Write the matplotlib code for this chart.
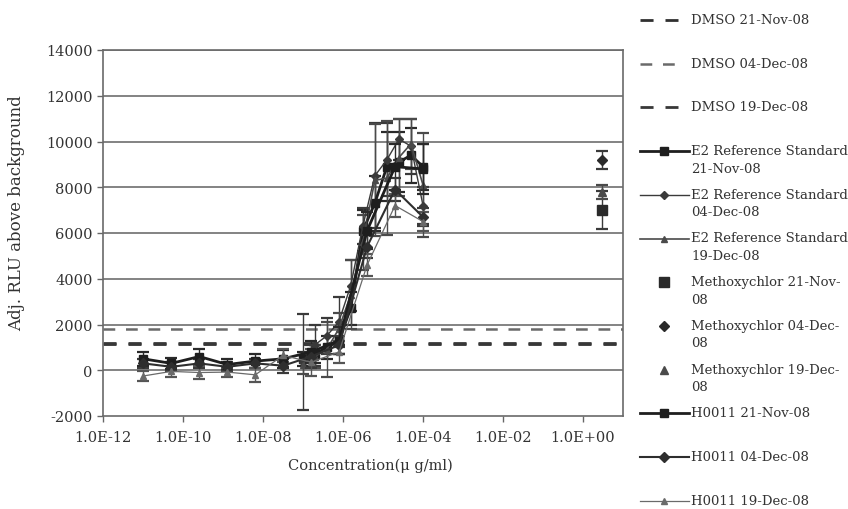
import numpy as np
import matplotlib
matplotlib.use("Agg")
import matplotlib.pyplot as plt
from matplotlib.lines import Line2D
from matplotlib.ticker import FixedLocator, FuncFormatter, NullLocator

plt.rcParams['font.family'] = ['DejaVu Serif']
plt.rcParams['axes.unicode_minus'] = False

# E2 reference standard, 2-fold dilutions (ug/ml)
e2_conc = [9.8e-8, 1.95e-7, 3.9e-7, 7.8e-7, 1.56e-6, 3.13e-6,
           6.25e-6, 1.25e-5, 2.5e-5, 5.0e-5, 1.0e-4]
e2_nov21 = [500, 700, 1000, 1300, 2700, 6100, 7300, 8900, 9100, 9400, 8900]
e2_nov21_sd = [300, 400, 500, 600, 700, 900, 1200, 1500, 1300, 1200, 1000]
e2_dec04 = [350, 1100, 1500, 2100, 3700, 6300, 8500, 9200, 10100, 9800, 7200]
e2_dec04_sd = [2100, 900, 800, 1100, 1100, 800, 2300, 1600, 900, 1200, 800]
e2_dec19 = [250, 600, 900, 1800, 3300, 5600, 8300, 8400, 9300, 9900, 8100]
e2_dec19_sd = [400, 500, 1200, 700, 1500, 1200, 2450, 2500, 1700, 1100, 2270]

# H0011, 5-fold dilutions (ug/ml)
h_conc = [1.02e-11, 5.12e-11, 2.56e-10, 1.28e-9, 6.4e-9, 3.2e-8,
          1.6e-7, 8.0e-7, 4.0e-6, 2.0e-5, 1.0e-4]
h_nov21 = [500, 300, 600, 250, 400, 500, 800, 1300, 6100, 8900, 8800]
h_nov21_sd = [300, 250, 350, 250, 300, 400, 500, 600, 800, 1000, 1100]
h_dec04 = [300, 150, 300, 150, 300, 200, 600, 1100, 5400, 7900, 6700]
h_dec04_sd = [200, 200, 200, 200, 200, 300, 500, 400, 500, 500, 400]
h_dec19 = [-250, -50, -100, -80, -200, 650, 350, 800, 4600, 7200, 6500]
h_dec19_sd = [200, 250, 300, 200, 300, 300, 600, 500, 500, 500, 400]

# methoxychlor positive control, single concentration
mxc_conc = [3.0]
mxc_nov21 = [7000]
mxc_nov21_sd = [820]
mxc_dec04 = [9180]
mxc_dec04_sd = [390]
mxc_dec19 = [7780]
mxc_dec19_sd = [300]

# DMSO solvent control levels
dmso_nov21 = 1150
dmso_dec04 = 1820
dmso_dec19 = 1170

x_ticks = [1e-12, 1e-10, 1e-8, 1e-6, 1e-4, 1e-2, 1e0]
y_ticks = [-2000, 0, 2000, 4000, 6000, 8000, 10000, 12000, 14000]

W, H = 848, 510
fig = plt.figure(figsize=(W / 100, H / 100), dpi=100)
ax = fig.add_axes([103 / W, 1 - 417 / H, 520 / W, 366 / H])

ax.set_xscale('log')
ax.set_xlim(1e-12, 1e1)
ax.set_ylim(-2000, 14000)
for y in y_ticks[1:]:
    ax.axhline(y, color='#7a7a7a', lw=1.3, zorder=0)

dash = (4.7, 4.3)
ax.axhline(dmso_nov21, color='#303030', lw=2.0, dashes=dash, zorder=1)
ax.axhline(dmso_dec04, color='#6a6a6a', lw=1.8, dashes=dash, zorder=1)
ax.axhline(dmso_dec19, color='#383838', lw=2.0, dashes=dash, zorder=1)

eb = dict(capsize=4, elinewidth=1.0, capthick=1.6)

ax.errorbar(e2_conc, e2_nov21, yerr=e2_nov21_sd, color='#1e1e1e', ecolor='#2a2a2a',
            lw=2.0, marker='s', ms=6, **eb, zorder=4)
ax.errorbar(e2_conc, e2_dec04, yerr=e2_dec04_sd, color='#3a3a3a', ecolor='#3a3a3a',
            lw=1.0, marker='D', ms=4, **eb, zorder=4)
ax.errorbar(e2_conc, e2_dec19, yerr=e2_dec19_sd, color='#4a4a4a', ecolor='#4a4a4a',
            lw=1.2, marker='^', ms=5, **eb, zorder=4)

ax.errorbar(mxc_conc, mxc_nov21, yerr=mxc_nov21_sd, color='#2a2a2a', ecolor='#3a3a3a',
            ls='none', marker='s', ms=7, **eb, zorder=4)
ax.errorbar(mxc_conc, mxc_dec04, yerr=mxc_dec04_sd, color='#2a2a2a', ecolor='#3a3a3a',
            ls='none', marker='D', ms=5, **eb, zorder=4)
ax.errorbar(mxc_conc, mxc_dec19, yerr=mxc_dec19_sd, color='#4a4a4a', ecolor='#4a4a4a',
            ls='none', marker='^', ms=6, **eb, zorder=4)

ax.errorbar(h_conc, h_nov21, yerr=h_nov21_sd, color='#1e1e1e', ecolor='#2a2a2a',
            lw=2.0, marker='s', ms=6, **eb, zorder=5)
ax.errorbar(h_conc, h_dec04, yerr=h_dec04_sd, color='#2e2e2e', ecolor='#3a3a3a',
            lw=1.5, marker='D', ms=5, **eb, zorder=5)
ax.errorbar(h_conc, h_dec19, yerr=h_dec19_sd, color='#6a6a6a', ecolor='#555555',
            lw=0.9, marker='^', ms=4, **eb, zorder=5)

ax.xaxis.set_major_locator(FixedLocator(x_ticks))
ax.xaxis.set_minor_locator(NullLocator())
ax.xaxis.set_major_formatter(FuncFormatter(lambda v, p: '%.1E' % v))
ax.set_yticks(y_ticks)
ax.tick_params(axis='both', direction='out', length=4, width=1.0, color='#666666',
               labelsize=10.5, labelcolor='#333333')
ax.tick_params(axis='x', pad=6)
for side in ['left', 'bottom', 'right', 'top']:
    ax.spines[side].set_color('#6a6a6a')
    ax.spines[side].set_linewidth(1.2)

ax.set_xlabel('Concentration(\u03bc g/ml)', fontsize=10.5, color='#333333')
ax.set_ylabel('Adj. RLU above background', fontsize=12, color='#333333')
ax.xaxis.set_label_coords(0.515, -0.115)
ax.yaxis.set_label_coords(-0.15, 0.557)

# legend drawn beside the plot, one row per series
def fy(py):
    return 1 - py / H

def fx(px):
    return px / W

legend_rows = [
    dict(label='DMSO 21-Nov-08', color='#303030', lw=2.0, dashes=dash, marker=None),
    dict(label='DMSO 04-Dec-08', color='#6a6a6a', lw=1.8, dashes=dash, marker=None),
    dict(label='DMSO 19-Dec-08', color='#383838', lw=2.0, dashes=dash, marker=None),
    dict(label='E2 Reference Standard\n21-Nov-08', color='#1e1e1e', lw=2.0, marker='s', ms=6),
    dict(label='E2 Reference Standard\n04-Dec-08', color='#3a3a3a', lw=1.0, marker='D', ms=4),
    dict(label='E2 Reference Standard\n19-Dec-08', color='#4a4a4a', lw=1.2, marker='^', ms=5),
    dict(label='Methoxychlor 21-Nov-\n08', color='#2a2a2a', lw=0, marker='s', ms=7),
    dict(label='Methoxychlor 04-Dec-\n08', color='#2a2a2a', lw=0, marker='D', ms=5),
    dict(label='Methoxychlor 19-Dec-\n08', color='#4a4a4a', lw=0, marker='^', ms=6),
    dict(label='H0011 21-Nov-08', color='#1e1e1e', lw=2.0, marker='s', ms=6),
    dict(label='H0011 04-Dec-08', color='#2e2e2e', lw=1.5, marker='D', ms=5),
    dict(label='H0011 19-Dec-08', color='#6a6a6a', lw=0.9, marker='^', ms=4),
]

for i, row in enumerate(legend_rows):
    py = 21 + 43.7 * i
    if row['lw'] > 0:
        kw = dict(color=row['color'], lw=row['lw'])
        x_end = 689
        if row.get('dashes'):
            kw['dashes'] = row['dashes']
            x_end = 678
        fig.add_artist(Line2D([fx(640), fx(x_end)], [fy(py), fy(py)],
                              transform=fig.transFigure, **kw))
    if row['marker']:
        fig.add_artist(Line2D([fx(664)], [fy(py)], transform=fig.transFigure,
                              ls='none', marker=row['marker'], ms=row['ms'],
                              color=row['color']))
    fig.text(fx(691), fy(py - 7), row['label'], ha='left', va='top', fontsize=9.5,
             color='#333333', linespacing=1.45)

fig.savefig('out.png', dpi=100)
